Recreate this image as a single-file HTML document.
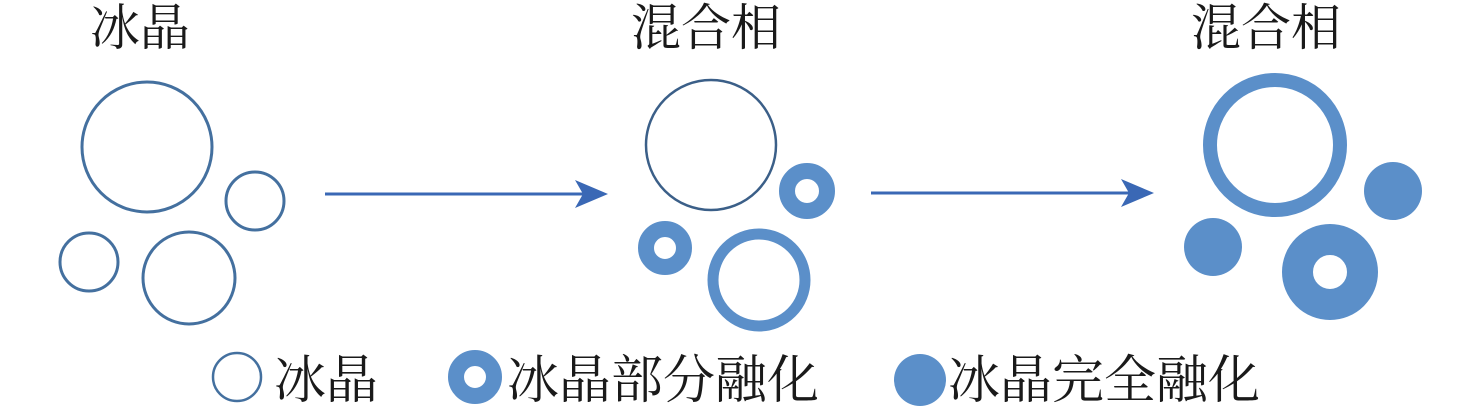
<!DOCTYPE html>
<html><head><meta charset="utf-8"><style>
html,body{margin:0;padding:0;background:#fff;}
body{width:1476px;height:409px;overflow:hidden;}
text{font-family:"Liberation Serif","Noto Serif CJK SC",serif;font-size:50px;fill:#1a1a1a;}
.l{font-size:52px;}
</style></head><body>
<svg width="1476" height="409" viewBox="0 0 1476 409" xmlns="http://www.w3.org/2000/svg">
<text x="90" y="45">冰晶</text>
<text x="631" y="45">混合相</text>
<text x="1191" y="45">混合相</text>
<g fill="none" stroke="#44709f" stroke-width="3">
<circle cx="147" cy="147" r="65"/>
<circle cx="255" cy="201" r="29"/>
<circle cx="89" cy="262" r="29"/>
<circle cx="189" cy="278" r="46"/>
<circle cx="711" cy="145" r="65" stroke="#3b5f88" stroke-width="2.5"/>
<circle cx="237" cy="377" r="24" stroke-width="2.5"/>
</g>
<g fill="none" stroke="#5b8fc9">
<circle cx="807" cy="191" r="20" stroke-width="16"/>
<circle cx="665" cy="248" r="19" stroke-width="16"/>
<circle cx="759" cy="280" r="46" stroke-width="11"/>
<circle cx="1275" cy="145" r="65" stroke-width="14"/>
<circle cx="1330" cy="272" r="32.5" stroke-width="31"/>
<circle cx="475" cy="377" r="19" stroke-width="16"/>
</g>
<g fill="#5b8fc9">
<circle cx="1393" cy="191" r="29"/>
<circle cx="1213" cy="247" r="29"/>
<circle cx="920" cy="380" r="26"/>
</g>
<g stroke="#3a68b5" stroke-width="3" fill="#3a68b5">
<line x1="325" y1="194" x2="590" y2="194"/>
<polygon points="608,194 575,180 583,194 575,208" stroke="none"/>
<line x1="871" y1="193" x2="1136" y2="193"/>
<polygon points="1154,193 1121,179 1129,193 1121,207" stroke="none"/>
</g>
<text class="l" x="274" y="398">冰晶</text>
<text class="l" x="507" y="398">冰晶部分融化</text>
<text class="l" x="948" y="398">冰晶完全融化</text>
</svg>
</body></html>
